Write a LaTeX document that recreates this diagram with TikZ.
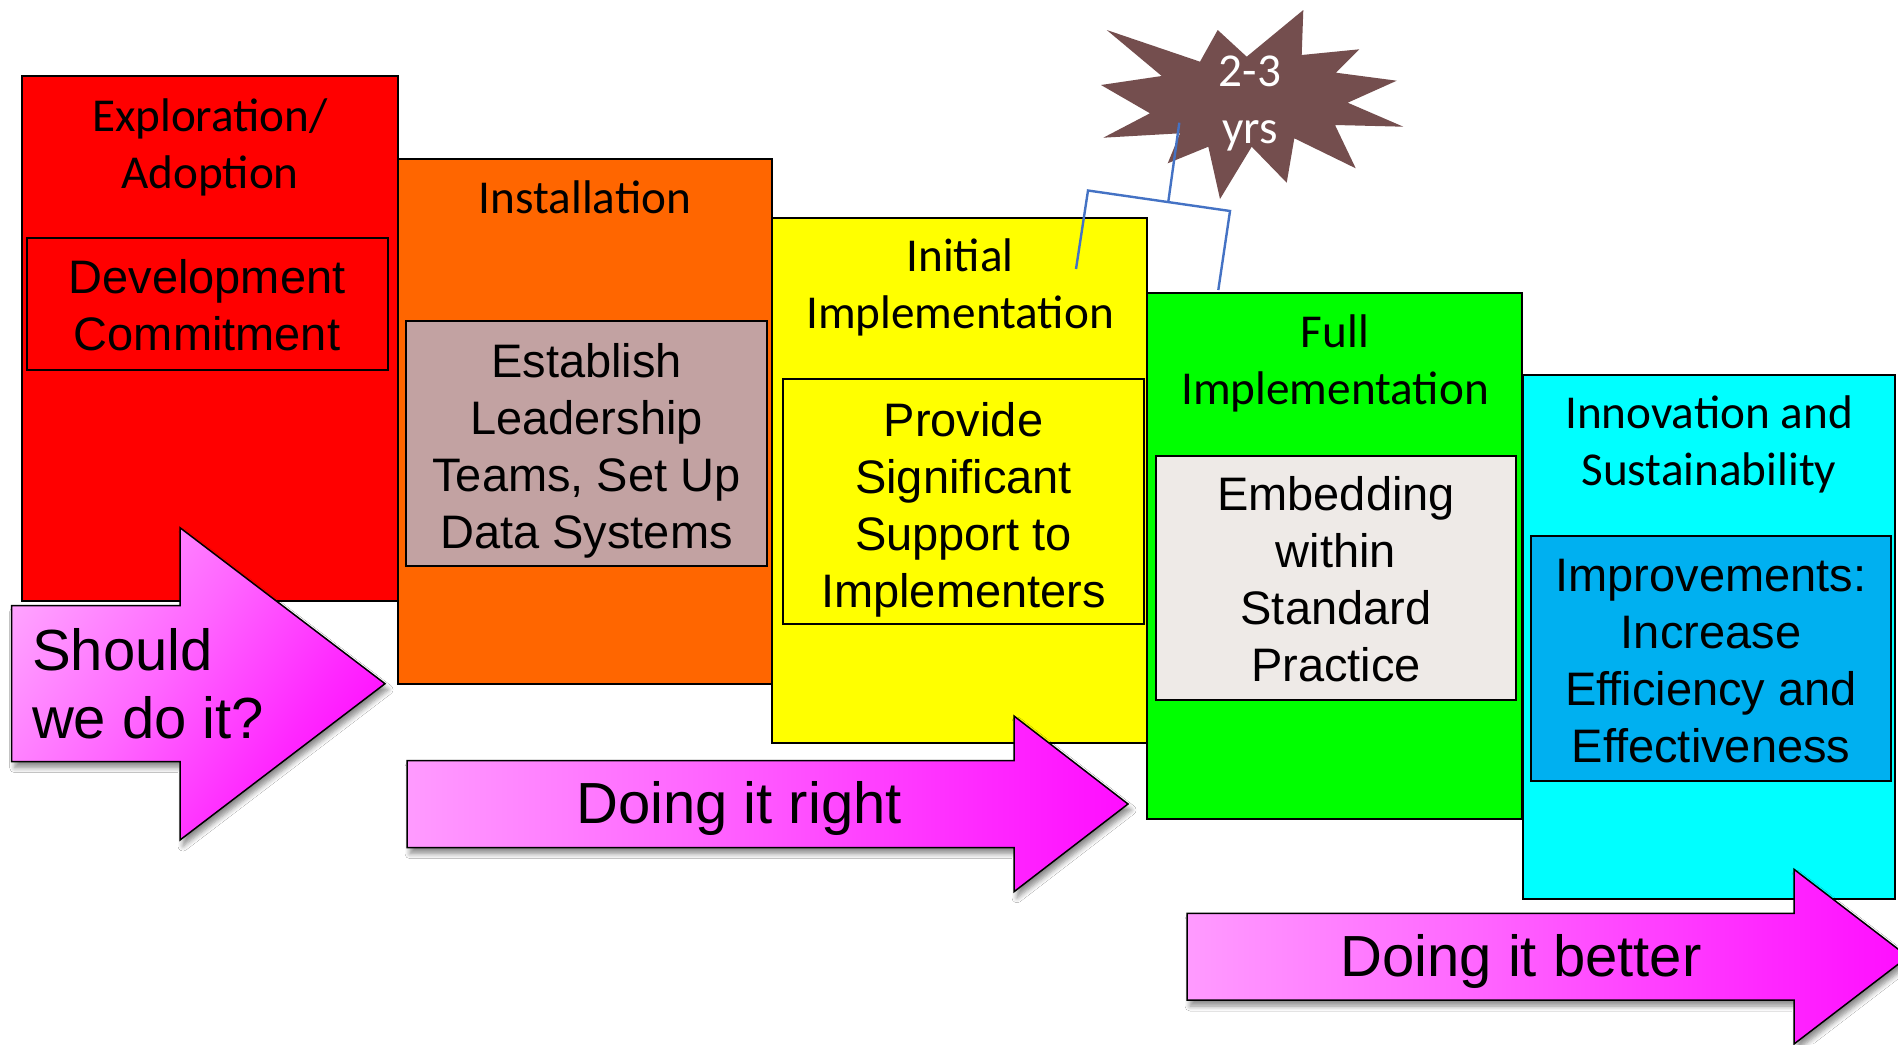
\documentclass[tikz,border=0pt]{standalone}
\usepackage{fontspec}
\setmainfont{Liberation Sans}
\newfontfamily\hdfont{Carlito}
\usetikzlibrary{shadows.blur}

\definecolor{cRed}{HTML}{FF0000}
\definecolor{cOrange}{HTML}{FF6600}
\definecolor{cYellow}{HTML}{FFFF00}
\definecolor{cGreen}{HTML}{00FF00}
\definecolor{cCyan}{HTML}{00FFFF}
\definecolor{cRose}{HTML}{C2A2A2}
\definecolor{cLight}{HTML}{EEEAE7}
\definecolor{cBlue}{HTML}{00B0F0}
\definecolor{cStar}{HTML}{744E4E}
\definecolor{cBracket}{HTML}{4472C4}
\definecolor{pinkA}{HTML}{FFE8FF}
\definecolor{pinkB}{HTML}{FFA8FF}
\definecolor{pinkC}{HTML}{FF66FF}
\definecolor{pinkD}{HTML}{FF28FF}
\definecolor{pinkE}{HTML}{FF00FF}

\pgfdeclarehorizontalshading{pinkfade}{100bp}{color(0bp)=(pinkA); color(20bp)=(pinkB); color(45bp)=(pinkC); color(65bp)=(pinkD); color(80bp)=(pinkE); color(100bp)=(pinkE)}

% multi-line nodes are anchored at the baseline of their last line
\tikzset{
  stage/.style={draw=black, line width=1.4pt},
  innerbox/.style={draw=black, line width=0.9pt},
  hd/.style={font=\hdfont\fontsize{23.6pt}{28.5pt}\selectfont, align=center, anchor=base, inner sep=0pt},
  bodytxt/.style={font=\fontsize{23.5pt}{28.5pt}\selectfont, align=center, anchor=base, inner sep=0pt},
  arrowtxt/.style={font=\fontsize{29pt}{34pt}\selectfont, anchor=base, inner sep=0pt},
  bigarrow/.style={draw=black, line width=0.75pt, shading=pinkfade,
    blur shadow={shadow xshift=1.5pt, shadow yshift=-3pt, shadow opacity=45,
                 shadow blur radius=2.5pt, shadow blur steps=6}},
  bracket/.style={draw=cBracket, line width=1.2pt}
}

\begin{document}
\begin{tikzpicture}[x=0.5pt,y=-0.5pt]
\useasboundingbox (0,0) rectangle (1898,1044);
\clip (0,0) rectangle (1898,1044);
\fill[white] (0,0) rectangle (1898,1044);

% the five stage columns
\path[stage, fill=cRed]    (22,76)    rectangle (398,601);
\path[stage, fill=cOrange] (398,159)  rectangle (772,684);
\path[stage, fill=cYellow] (772,218)  rectangle (1147,743);
\path[stage, fill=cGreen]  (1147,293) rectangle (1522,819);
\path[stage, fill=cCyan]   (1523,375) rectangle (1895,899);

% inner boxes
\path[innerbox, fill=cRed]    (27,238)   rectangle (388,370);
\path[innerbox, fill=cRose]   (406,321)  rectangle (767,566);
\path[innerbox, fill=cYellow] (783,379)  rectangle (1144,624);
\path[innerbox, fill=cLight]  (1156,456) rectangle (1516,700);
\path[innerbox, fill=cBlue]   (1531,536) rectangle (1891,781);

% stage titles
\node[hd] (h1) at (210,188)   {Exploration/\\Adoption};
\node[hd] (h2) at (585,213.5) {Installation};
\node[hd] (h3) at (960,328)   {Initial\\Implementation};
\node[hd] (h4) at (1335,404.5) {Full\\Implementation};
\node[hd] (h5) at (1709,485.5) {Innovation and\\Sustainability};

% stage activities
\node[bodytxt] (b1) at (207,350.5)  {Development\\Commitment};
\node[bodytxt] (b2) at (586.5,548)  {Establish\\Leadership\\Teams, Set Up\\Data Systems};
\node[bodytxt] (b3) at (963.5,607)  {Provide\\Significant\\Support to\\Implementers};
\node[bodytxt] (b4) at (1336,681.5) {Embedding\\within\\Standard\\Practice};
\node[bodytxt] (b5) at (1711,762.5) {Improvements:\\Increase\\Efficiency and\\Effectiveness};

% block arrows
\path[bigarrow, shading angle=-35]
  (11.7,605.7) -- (180,605.7) -- (180,527.7) -- (385,683.7) -- (180,840) -- (180,761.7) -- (11.7,761.7) -- cycle;
\path[bigarrow]
  (407,760.7) -- (1014,760.7) -- (1014,716) -- (1128,804) -- (1014,891.7) -- (1014,847.7) -- (407,847.7) -- cycle;
\path[bigarrow]
  (1187,913.3) -- (1794,913.3) -- (1794,869.3) -- (1908,956.7) -- (1794,1044) -- (1794,1000) -- (1187,1000) -- cycle;

\node[arrowtxt, anchor=base west, align=left] (a1) at (31.7,738) {Should\\we do it?};
\node[arrowtxt] (a2) at (739,823)   {Doing it right};
\node[arrowtxt] (a3) at (1521,976.7) {Doing it better};

% duration burst
\fill[cStar] (1303.3,10) -- (1301.7,55) -- (1359.3,49.3) -- (1336,72.7) -- (1396.7,80.7)
  -- (1347.7,102.7) -- (1403.3,126.7) -- (1335,125) -- (1355.7,168.3) -- (1294.3,138.3)
  -- (1286.7,182.7) -- (1251.7,146.7) -- (1220,199) -- (1208.3,146.7) -- (1167.7,163.3)
  -- (1180,133.3) -- (1103.3,137.7) -- (1150,113.3) -- (1101,85) -- (1161.7,76)
  -- (1106.7,30) -- (1200,61.7) -- (1217.7,30) -- (1246.7,56.7) -- cycle;
\node[hd, text=white] (yrs) at (1250,143) {2-3\\yrs};

% bracket spanning initial and full implementation
\coordinate (bkA) at (1076,269);
\coordinate (bkB) at (1088,190.5);
\coordinate (bkC) at (1230,211);
\coordinate (bkD) at (1218.3,290);
\coordinate (bkS) at (1168.3,201.7);
\coordinate (bkT) at (1179.3,122.7);
\draw[bracket] (bkA) -- (bkB) -- (bkC) -- (bkD);
\draw[bracket] (bkS) -- (bkT);
\end{tikzpicture}
\end{document}
